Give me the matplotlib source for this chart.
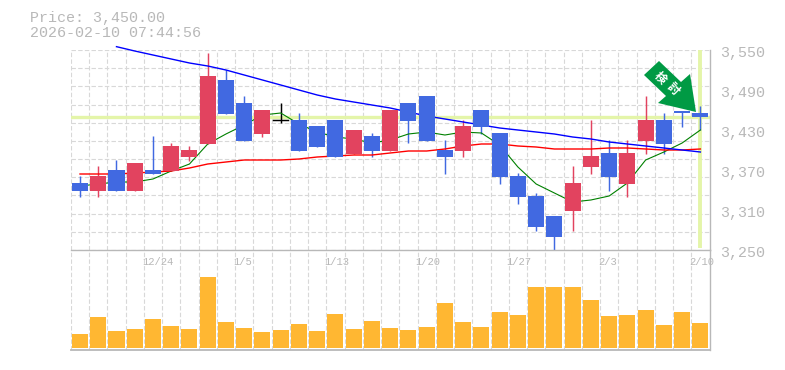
"""
Daily candle chart with moving averages and a volume panel.
"""

import matplotlib

matplotlib.use("Agg")
import matplotlib.pyplot as plt
from matplotlib.patches import Polygon, Rectangle

opens = [3350, 3338, 3370, 3338, 3370, 3368, 3390, 3409, 3505, 3470, 3424, 3445,
         3445, 3436, 3445, 3394, 3421, 3398, 3470, 3481, 3400, 3398, 3460, 3425,
         3361, 3331, 3301, 3308, 3374, 3395, 3349, 3413, 3445, 3458, 3455]
highs = [3361, 3376, 3385, 3380, 3421, 3410, 3406, 3545, 3520, 3481, 3460, 3470,
         3455, 3436, 3445, 3430, 3425, 3460, 3470, 3481, 3415, 3445, 3460, 3425,
         3365, 3335, 3301, 3376, 3445, 3415, 3415, 3481, 3455, 3458, 3466]
lows = [3330, 3330, 3338, 3338, 3364, 3368, 3383, 3409, 3454, 3413, 3419, 3440,
        3398, 3404, 3389, 3394, 3389, 3398, 3410, 3413, 3364, 3389, 3424, 3349,
        3319, 3278, 3248, 3278, 3364, 3338, 3329, 3394, 3394, 3434, 3430]
closes = [3338, 3361, 3338, 3380, 3364, 3406, 3400, 3511, 3454, 3413, 3460, 3445,
          3398, 3404, 3389, 3430, 3398, 3460, 3443, 3413, 3389, 3436, 3434, 3359,
          3329, 3284, 3269, 3350, 3391, 3359, 3395, 3445, 3409, 3455, 3449]
volumes = [14, 31, 17, 19, 29, 22, 19, 71, 26, 20, 16, 18, 24, 17, 34, 19, 27, 20,
           18, 21, 45, 26, 21, 36, 33, 61, 61, 61, 48, 32, 33, 38, 23, 36, 25]

ma_short = [3346, 3349, 3352, 3352, 3356.5, 3368.5, 3379, 3409, 3424, 3437.5, 3452.5,
            3455.5, 3439, 3427, 3419.5, 3416.5, 3410.5, 3415, 3424, 3427, 3422.5,
            3427, 3425.5, 3407.5, 3374.5, 3349, 3335.5, 3322, 3325, 3331, 3350.5,
            3385, 3397, 3410.5, 3430]
ma_mid = [3364, 3364, 3364, 3365.5, 3367, 3368.5, 3373, 3379, 3382, 3385, 3385, 3385,
          3386.5, 3389.5, 3391, 3392.5, 3392.5, 3395.5, 3398.5, 3398.5, 3401.5, 3406,
          3409, 3409, 3406, 3404.5, 3401.5, 3401.5, 3401.5, 3403, 3403, 3401.5, 3400,
          3400, 3401.5]
ma_long = [3555, 3548.5, 3542.5, 3536.5, 3530.5, 3526, 3520, 3512.5, 3505, 3497.5, 3490,
           3482.5, 3476.5, 3472, 3467.5, 3463, 3457, 3451, 3446.5, 3442, 3437.5, 3433,
           3430, 3427, 3424, 3419.5, 3416.5, 3412, 3409, 3406, 3403, 3400, 3397]

date_labels = ["12/24", "1/5", "1/13", "1/20", "1/27", "2/3", "2/10"]
date_slots = [3, 8, 13, 18, 23, 28, 33]
price_ticks = [3550, 3490, 3430, 3370, 3310, 3250]
current_price = 3450
arrow_label = "検討"

GREY = "#b8b8b8"
GRID = "#d8d8d8"
HILITE = "#e4f5a9"
UP = "#e2435f"
DOWN = "#4169e1"
VOLUME = "#ffb732"
MONO = "Liberation Mono"

W, H = 785, 370
X0, X1 = -0.52, 34.5

fig = plt.figure(figsize=(W / 100, H / 100), dpi=100)
ax = fig.add_axes([70.5 / W, 1 - 250 / H, 639 / W, 200 / H])
vol = fig.add_axes([70.5 / W, 1 - 350 / H, 639 / W, 100 / H])

n = len(closes)
days = list(range(n))
grid_x = [i + 0.5 for i in range(-1, n - 1)]
grid_y = [3250 + i * 300 / 11 for i in range(12)]

for a in (ax, vol):
    a.set_xlim(X0, X1)
    a.set_xticks([])
    a.set_yticks([])
    for x in grid_x:
        a.axvline(x, color=GRID, lw=0.8, dashes=(4, 2), zorder=0)
    for side in ("left", "top", "bottom"):
        a.spines[side].set_visible(False)
    a.spines["right"].set_color(GREY)
    a.spines["right"].set_linewidth(1.0)

ax.set_ylim(3250, 3550)
for y in grid_y:
    ax.axhline(y, color=GRID, lw=0.8, dashes=(4, 2), zorder=0)

# current price cross
ax.axhline(current_price, color=HILITE, lw=2.4, zorder=1)
ax.plot([n - 1, n - 1], [3253, 3550], color=HILITE, lw=2.8, zorder=1,
        solid_capstyle="butt")

# moving averages sit under the candle bodies
ax.plot(days, ma_short, color="#008000", lw=0.8, zorder=3)
ax.plot(days, ma_mid, color="#ff0000", lw=1.0, zorder=3)
ax.plot(days[2:], ma_long, color="#0000ff", lw=1.0, zorder=3, clip_on=False)

for i in days:
    if closes[i] == opens[i]:
        color = "black"
    elif closes[i] > opens[i]:
        color = UP
    else:
        color = DOWN
    ax.plot([i, i], [lows[i], highs[i]], color=color, lw=1.05, zorder=2.5,
            solid_capstyle="butt")
    body = abs(closes[i] - opens[i])
    if body:
        ax.add_patch(Rectangle((i - 0.44, min(opens[i], closes[i])), 0.88, body,
                               color=color, lw=0, zorder=4))
    else:
        ax.plot([i - 0.42, i + 0.42], [opens[i], opens[i]], color=color, lw=1.05, zorder=4)

vol.set_ylim(-2, 98)
vol.bar(days, volumes, width=0.88, color=VOLUME, zorder=3)
vol.plot([X0, X1], [98, 98], color=GREY, lw=1.0, zorder=4, clip_on=False)
vol.plot([X0, X1], [-2, -2], color=GREY, lw=1.3, zorder=4, clip_on=False)

for slot, label in zip(date_slots, date_labels):
    vol.annotate(label, (slot + 0.5, 98), xytext=(-2, -12), textcoords="offset pixels",
                 family=MONO, fontsize=7.6, color=GREY, ha="left", va="center", zorder=5)

for p in price_ticks:
    ax.annotate(f"{p:,}", (X1, p), xytext=(11, -3), textcoords="offset pixels",
                family=MONO, fontsize=10.8, color=GREY, ha="left", va="center",
                annotation_clip=False)

fig.text(30 / W, 1 - 18 / H, "Price: 3,450.00", family=MONO, fontsize=10.8, color=GREY,
         va="center")
fig.text(30 / W, 1 - 33 / H, "2026-02-10 07:44:56", family=MONO, fontsize=10.8, color=GREY,
         va="center")

# signal arrow, placed in figure pixels
arrow_px = [(659, 61), (681, 82), (690, 74), (696, 112), (658, 103), (666, 96), (644, 75)]
fig.add_artist(Polygon([(x / W, 1 - y / H) for x, y in arrow_px], closed=True,
                       transform=fig.transFigure, facecolor="#009a44", edgecolor="none",
                       zorder=6))
for char, (cx, cy) in zip(arrow_label, [(660, 78), (673, 89)]):
    fig.text(cx / W, 1 - cy / H, char, family=["Noto Sans CJK JP", "DejaVu Sans"],
             fontsize=8.5, fontweight="bold", color="white", rotation=-45, ha="center",
             va="center", rotation_mode="anchor", zorder=7)

fig.savefig("out.png", dpi=100)
